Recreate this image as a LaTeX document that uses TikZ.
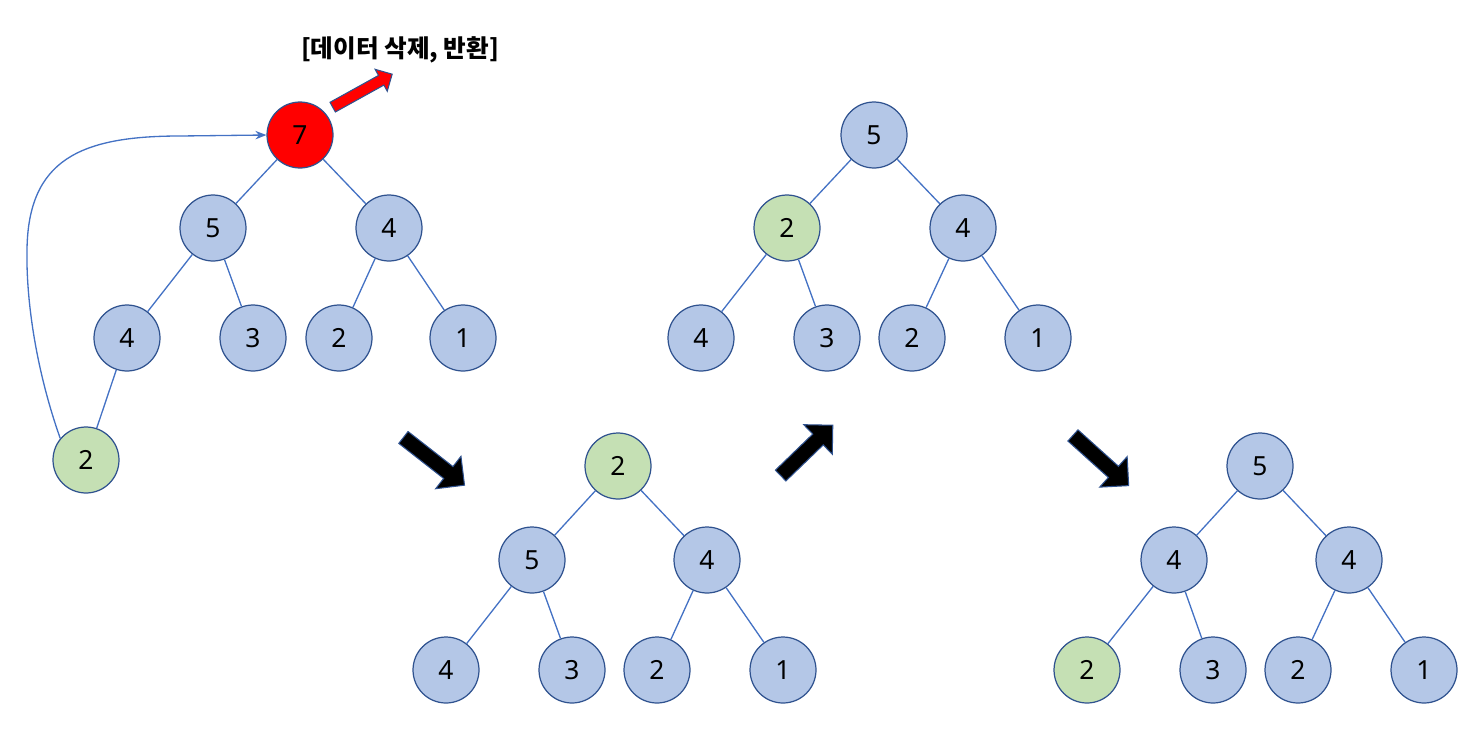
\documentclass[tikz,border=0pt]{standalone}
\usepackage{fontspec}
\setmainfont{Noto Sans}
\newfontfamily\krfont{Noto Sans CJK KR}
\usetikzlibrary{shapes.arrows,arrows.meta}

\definecolor{nodeblue}{HTML}{B4C7E7}
\definecolor{nodeline}{HTML}{2F528F}
\definecolor{edgeblue}{HTML}{4472C4}
\definecolor{movegreen}{HTML}{C5E0B4}

\tikzstyle{heap} = [circle, draw=nodeline, line width=0.7pt, fill=nodeblue, minimum size=1.32cm, inner sep=0pt, font=\fontsize{15}{15}\selectfont]
\tikzstyle{moved} = [heap, fill=movegreen]
\tikzstyle{removed} = [heap, fill=red]
\tikzstyle{link} = [draw=edgeblue, line width=0.75pt]
\tikzstyle{bigarrow} = [single arrow, draw=nodeline, fill=black, line width=0.6pt, inner sep=0.14cm, single arrow head extend=0.26cm, minimum height=1.55cm]

\begin{document}
\begin{tikzpicture}[x=0.02cm, y=-0.02cm]
\useasboundingbox (0,0) rectangle (1480,744);

% tree 1 : remove the root
\begin{scope}[shift={(300,135)}]
\node[removed] (r1) at (0,0) {7};
\node[heap] (a1) at (-87,93) {5};
\node[heap] (b1) at (89,93) {4};
\node[heap] (c1) at (-173,203) {4};
\node[heap] (d1) at (-47,203) {3};
\node[heap] (e1) at (39,203) {2};
\node[heap] (f1) at (163,203) {1};
\node[moved] (g1) at (-214,325) {2};
\end{scope}

% tree 2 : last node moved up
\begin{scope}[shift={(618,466)}]
\node[moved] (r2) at (0,0) {2};
\node[heap] (a2) at (-86,94) {5};
\node[heap] (b2) at (89,94) {4};
\node[heap] (c2) at (-172,204) {4};
\node[heap] (d2) at (-46,204) {3};
\node[heap] (e2) at (39,204) {2};
\node[heap] (f2) at (165,204) {1};
\end{scope}

% tree 3
\begin{scope}[shift={(874,135)}]
\node[heap] (r3) at (0,0) {5};
\node[moved] (a3) at (-87,93) {2};
\node[heap] (b3) at (89,93) {4};
\node[heap] (c3) at (-173,203) {4};
\node[heap] (d3) at (-47,203) {3};
\node[heap] (e3) at (38,203) {2};
\node[heap] (f3) at (164,203) {1};
\end{scope}

% tree 4
\begin{scope}[shift={(1260,466)}]
\node[heap] (r4) at (0,0) {5};
\node[heap] (a4) at (-86,94) {4};
\node[heap] (b4) at (89,94) {4};
\node[moved] (c4) at (-173,204) {2};
\node[heap] (d4) at (-47,204) {3};
\node[heap] (e4) at (38,204) {2};
\node[heap] (f4) at (164,204) {1};
\end{scope}

\foreach \t in {1,2,3,4}
  \draw[link] (a\t) -- (r\t) -- (b\t) (c\t) -- (a\t) -- (d\t) (e\t) -- (b\t) -- (f\t);
\draw[link] (c1) -- (g1);

% last node goes to the root
\draw[link, -{Stealth[length=0.22cm, width=0.17cm]}] (g1.140)
  .. controls (36,370) and (26,300) .. (27,250)
  .. controls (28,160) and (80,136) .. (180,136) -- (r1.west);

% removed data
\node[bigarrow, fill=red, inner sep=0.1cm, single arrow head extend=0.14cm, minimum height=1.36cm, rotate=29] (delarrow) at (360,92) {};
\node[font=\krfont\bfseries\fontsize{14}{14}\selectfont] (deltext) at (400,50) {[데이터 삭제, 반환]};

% steps
\node[bigarrow, rotate=-38] (go1) at (431,459) {};
\node[bigarrow, minimum height=1.45cm, rotate=44] (go2) at (804,453) {};
\node[bigarrow, minimum height=1.5cm, rotate=-42] (go3) at (1098,458) {};
\end{tikzpicture}
\end{document}
